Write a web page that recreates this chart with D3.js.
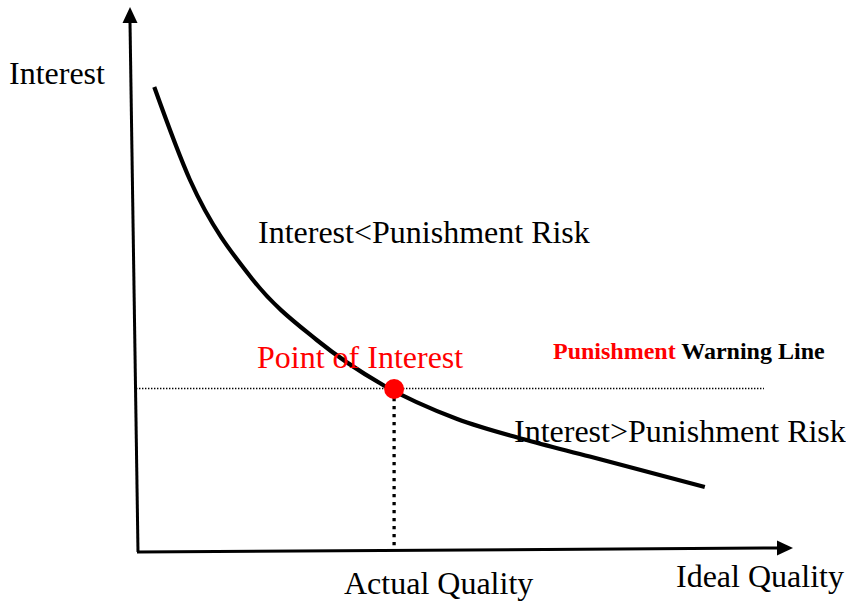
<!DOCTYPE html>
<html><head><meta charset="utf-8">
<script src="https://cdn.jsdelivr.net/npm/d3@7/dist/d3.min.js"></script>
<style>body{margin:0;background:#fff}svg{display:block}text{font-family:"Liberation Serif","Times New Roman",serif}</style>
</head><body><svg id="c" width="846" height="602"></svg>
<script>
// curve in data units (x: quality 0-100, y: interest 0-100)
const curveX = [2.5, 8.0, 17.7, 27.5, 37.7, 49.1, 59.2, 69.5, 87.2];
const curveY = [93, 74.4, 54.4, 42.4, 33.4, 26.6, 22.6, 19.1, 13.0];
const pointOfInterest = {x: 39.4, y: 32.6};
const warningLineEnd = 96.3;
const labels = {
  yAxis: "Interest", xAxis: "Ideal Quality", actual: "Actual Quality",
  upper: "Interest<Punishment Risk", lower: "Interest>Punishment Risk",
  point: "Point of Interest", warnRed: "Punishment", warnBlack: " Warning Line"
};

const svg = d3.select("#c");
const x = d3.scaleLinear().domain([0, 100]).range([138, 788]);
const y = d3.scaleLinear().domain([0, 100]).range([552, 52]);

// axes (slightly tilted as in the reference)
const ox = x(0), oy = y(0);
svg.append("line").attr("x1", ox).attr("y1", oy).attr("x2", ox - 8).attr("y2", 22)
  .attr("stroke", "#000").attr("stroke-width", 3);
svg.append("path").attr("d", `M${ox-8},7 L${ox-15.5},23 L${ox-0.5},23 Z`).attr("fill", "#000");
svg.append("line").attr("x1", ox - 1).attr("y1", oy).attr("x2", 779).attr("y2", 548)
  .attr("stroke", "#000").attr("stroke-width", 3);
svg.append("path").attr("d", `M793,548 L777,540.5 L777,555.5 Z`).attr("fill", "#000");

// warning line (dotted)
svg.append("line").attr("x1", 136).attr("x2", x(warningLineEnd))
  .attr("y1", y(pointOfInterest.y) - 0.5).attr("y2", y(pointOfInterest.y) - 0.5)
  .attr("stroke", "#000").attr("stroke-width", 1.4).attr("stroke-dasharray", "1.4,1.6");

// vertical dotted from point to x axis
svg.append("line").attr("x1", x(pointOfInterest.x)).attr("x2", x(pointOfInterest.x))
  .attr("y1", y(pointOfInterest.y) + 9).attr("y2", oy - 2)
  .attr("stroke", "#000").attr("stroke-width", 3.3).attr("stroke-dasharray", "3.3,4.7");

// curve
const pts = curveX.map((v, i) => [v, curveY[i]]);
svg.append("path").datum(pts)
  .attr("d", d3.line().x(d => x(d[0])).y(d => y(d[1])).curve(d3.curveMonotoneX))
  .attr("fill", "none").attr("stroke", "#000").attr("stroke-width", 4.2);

// point
svg.append("circle").attr("cx", x(pointOfInterest.x)).attr("cy", y(pointOfInterest.y))
  .attr("r", 10).attr("fill", "#ff0000");

// texts
const T = (t, px, py, size, fill, weight) => svg.append("text").attr("x", px).attr("y", py)
  .attr("font-size", size).attr("fill", fill || "#000").attr("font-weight", weight || "normal").text(t);
T(labels.yAxis, 9, 84, 32);
T(labels.upper, 258, 243, 32);
T(labels.point, 257, 368, 32, "#ff0000");
T(labels.lower, 514, 442, 32);
T(labels.actual, 344, 594, 32);
T(labels.xAxis, 676, 587, 32);
const w = svg.append("text").attr("x", 553).attr("y", 359).attr("font-size", 24).attr("font-weight", "bold");
w.append("tspan").attr("fill", "#ff0000").text(labels.warnRed);
w.append("tspan").attr("fill", "#000").text(labels.warnBlack);
</script></body></html>
